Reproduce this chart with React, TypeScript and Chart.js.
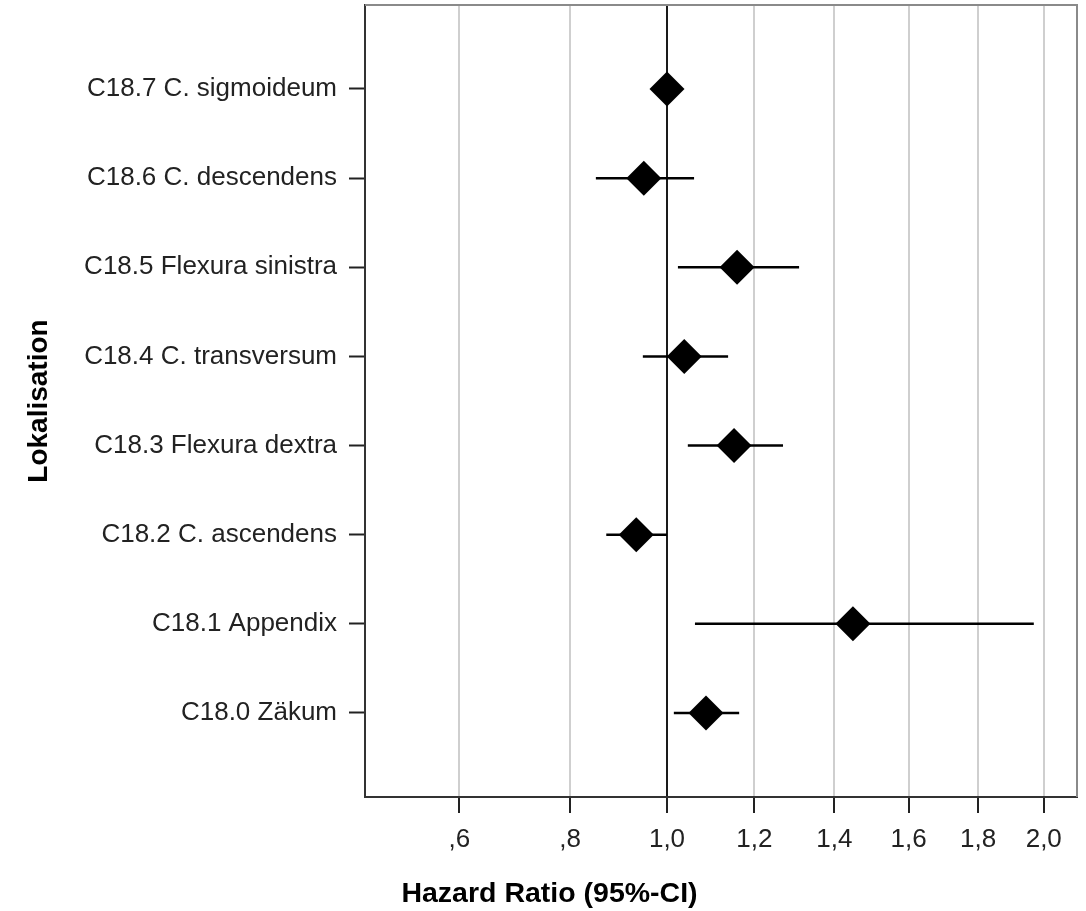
import React, { useEffect, useRef } from "react";
import { Chart, LinearScale, registerables } from "chart.js";

// ---- data (top row first) ----
const categories: string[] = [
  "C18.7 C. sigmoideum",
  "C18.6 C. descendens",
  "C18.5 Flexura sinistra",
  "C18.4 C. transversum",
  "C18.3 Flexura dextra",
  "C18.2 C. ascendens",
  "C18.1 Appendix",
  "C18.0 Zäkum",
];
const hazardRatio: number[] = [1.0, 0.95, 1.159, 1.038, 1.152, 0.934, 1.449, 1.087];
const ciLower: number[] = [1.0, 0.851, 1.024, 0.948, 1.046, 0.872, 1.062, 1.015];
const ciUpper: number[] = [1.0, 1.06, 1.31, 1.138, 1.27, 1.0, 1.969, 1.164];

const xTickValues: number[] = [0.6, 0.8, 1.0, 1.2, 1.4, 1.6, 1.8, 2.0];
const xTickLabels: string[] = [",6", ",8", "1,0", "1,2", "1,4", "1,6", "1,8", "2,0"];

const X_MIN = 0.4527;
const X_MAX = 2.1055;
const POWER = 0.48;

const FONT = '"Liberation Sans", Arial, sans-serif';

class PowerScale extends LinearScale {
  static id = "power";
  getPixelForValue(value: number) {
    const s = Math.pow(this.min, POWER);
    const e = Math.pow(this.max, POWER);
    return this.getPixelForDecimal((Math.pow(value, POWER) - s) / (e - s));
  }
  getValueForPixel(pixel: number) {
    const s = Math.pow(this.min, POWER);
    const e = Math.pow(this.max, POWER);
    const d = this.getDecimalForPixel(pixel);
    return Math.pow(s + d * (e - s), 1 / POWER);
  }
}

Chart.register(...registerables, PowerScale);

const framePlugin = {
  id: "frameTopRight",
  afterDraw(chart: any) {
    const { ctx, chartArea } = chart;
    const { left, right, top, bottom } = chartArea;
    ctx.save();
    ctx.strokeStyle = "#8a8a8a";
    ctx.lineWidth = 2;
    ctx.beginPath();
    ctx.moveTo(left, top);
    ctx.lineTo(right, top);
    ctx.lineTo(right, bottom);
    ctx.stroke();
    ctx.restore();
  },
};

const zeroPadding = (scale: any) => {
  scale.paddingTop = 0;
  scale.paddingBottom = 0;
  scale.paddingLeft = 0;
  scale.paddingRight = 0;
};

export default function App() {
  const ref = useRef<HTMLCanvasElement | null>(null);

  useEffect(() => {
    if (!ref.current) return;

    const ciDatasets = categories.map((_, i) => ({
      type: "line" as const,
      data: [
        { x: ciLower[i], y: i + 1 },
        { x: ciUpper[i], y: i + 1 },
      ],
      showLine: true,
      borderColor: "#000",
      borderWidth: 2.5,
      pointRadius: 0,
      order: 1,
    }));

    const pointDataset = {
      type: "scatter" as const,
      data: categories.map((_, i) => ({ x: hazardRatio[i], y: i + 1 })),
      pointStyle: "rectRot",
      pointRadius: 17.5,
      pointHoverRadius: 17.5,
      backgroundColor: "#000",
      borderColor: "#000",
      borderWidth: 0,
      order: 0,
    };

    const chart = new Chart(ref.current, {
      type: "scatter",
      data: { datasets: [pointDataset as any, ...(ciDatasets as any[])] },
      plugins: [framePlugin],
      options: {
        animation: false,
        responsive: false,
        devicePixelRatio: 1,
        layout: { autoPadding: false, padding: { left: 22, right: 9, top: 5, bottom: 0 } },
        plugins: {
          legend: { display: false },
          tooltip: { enabled: false },
          title: {
            display: true,
            text: "Hazard Ratio (95%-CI)",
            position: "bottom",
            color: "#000",
            font: { family: FONT, size: 28.5, weight: "bold", lineHeight: 1.2 },
            padding: { top: 0, bottom: 0 },
          },
        },
        scales: {
          x: {
            type: "power" as any,
            min: X_MIN,
            max: X_MAX,
            bounds: "data",
            afterBuildTicks: (scale: any) => {
              scale.ticks = xTickValues.map((v) => ({ value: v }));
            },
            afterFit: (scale: any) => {
              scale.height = 911 - 797 - 28.5 * 1.2;
              zeroPadding(scale);
            },
            ticks: {
              autoSkip: false,
              maxRotation: 0,
              padding: 11,
              color: "#222",
              font: { family: FONT, size: 26 },
              callback: (_v: any, i: number) => xTickLabels[i],
            },
            grid: {
              drawOnChartArea: true,
              drawTicks: true,
              tickLength: 16,
              tickColor: "#222",
              tickWidth: 2,
              color: (ctx: any) => (ctx.tick && ctx.tick.value === 1 ? "#1a1a1a" : "#cfcfcf"),
              lineWidth: 2,
            },
            border: { display: true, color: "#333", width: 2 },
          },
          y: {
            type: "linear",
            reverse: true,
            min: 0.0577,
            max: 8.943,
            bounds: "data",
            afterBuildTicks: (scale: any) => {
              scale.ticks = categories.map((_, i) => ({ value: i + 1 }));
            },
            afterFit: (scale: any) => {
              scale.width = 343;
              zeroPadding(scale);
            },
            ticks: {
              autoSkip: false,
              padding: 12,
              color: "#222",
              font: { family: FONT, size: 26 },
              callback: (v: any) => categories[Number(v) - 1],
            },
            grid: {
              drawOnChartArea: false,
              drawTicks: true,
              tickLength: 16,
              tickColor: "#222",
              tickWidth: 2,
            },
            border: { display: true, color: "#333", width: 2 },
            title: {
              display: true,
              text: "Lokalisation",
              color: "#000",
              font: { family: FONT, size: 28, weight: "bold", lineHeight: 1.2 },
              padding: { top: 0, bottom: 0 },
            },
          },
        },
      },
    });

    return () => chart.destroy();
  }, []);

  return (
    <div style={{ position: "fixed", left: 0, top: 0, width: 1086, height: 911, background: "#fff" }}>
      <canvas ref={ref} width={1086} height={911} style={{ width: 1086, height: 911, display: "block" }} />
    </div>
  );
}
